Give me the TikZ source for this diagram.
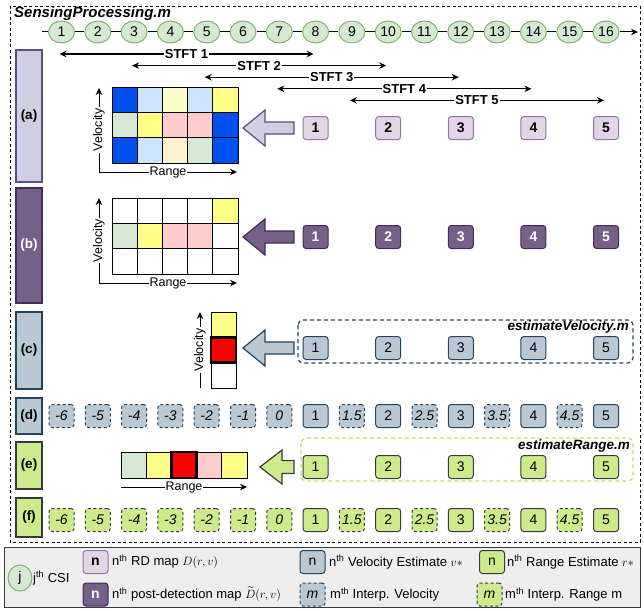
\documentclass[tikz,border=0pt]{standalone}
\usepackage{amsmath}
\usepackage{fontspec}
\setmainfont{Liberation Sans}
\usetikzlibrary{arrows.meta,shapes.geometric}

\definecolor{csifill}{HTML}{D5E8D4}
\definecolor{csiline}{HTML}{82B366}
\definecolor{rdbar}{HTML}{D0CEE2}
\definecolor{rdbarline}{HTML}{56517E}
\definecolor{rdfill}{HTML}{E1D5E7}
\definecolor{rdline}{HTML}{9673A6}
\definecolor{pdfill}{HTML}{76608A}
\definecolor{pdline}{HTML}{432D57}
\definecolor{vfill}{HTML}{BAC8D3}
\definecolor{vline}{HTML}{23445D}
\definecolor{rfill}{HTML}{CDEB8B}
\definecolor{rline}{HTML}{36393D}
\definecolor{rgroup}{HTML}{B9E35A}
\definecolor{legfill}{HTML}{EEEEEE}
\definecolor{cdblue}{HTML}{0050EF}
\definecolor{clblue}{HTML}{CCE5FF}
\definecolor{cpyellow}{HTML}{FFFFCC}
\definecolor{cyellow}{HTML}{FFFF88}
\definecolor{cpink}{HTML}{FFCCCC}
\definecolor{cgreen}{HTML}{D5E8D4}
\definecolor{cbeige}{HTML}{FFF2CC}
\definecolor{cred}{HTML}{FF0000}

\newcommand{\fs}[1]{\fontsize{#1}{#1}\selectfont}

\begin{document}
\begin{tikzpicture}[x=1pt,y=-1pt,
  >={Stealth[length=7pt,width=6.5pt]},
  every node/.style={font=\fs{14}, inner sep=0pt},
  csi/.style={ellipse, minimum width=26pt, minimum height=22pt, fill=csifill, draw=csiline, line width=1pt},
  tline/.style={line width=1pt},
  stft/.style={<->, line width=1.1pt},
  stftlabel/.style={fill=white, inner xsep=1pt, inner ysep=1pt, font=\fs{13}\bfseries},
  bar/.style={rectangle, line width=1.2pt, minimum width=26pt, font=\fs{13.5}\bfseries},
  nbox/.style={rectangle, rounded corners=3pt, minimum width=25pt, minimum height=23pt, line width=1pt},
  idash/.style={dash pattern=on 3pt off 2.5pt, font=\fs{14}\itshape},
  rdbox/.style={nbox, fill=rdfill, draw=rdline, font=\fs{14}\bfseries},
  pdbox/.style={nbox, fill=pdfill, draw=pdline, text=white, font=\fs{14}\bfseries},
  vbox/.style={nbox, fill=vfill, draw=vline},
  vibox/.style={vbox, idash},
  rbox/.style={nbox, fill=rfill, draw=rline},
  ribox/.style={rbox, idash},
  cell/.style={rectangle, minimum width=25.2pt, minimum height=25.3pt, draw=black, line width=0.8pt},
  hitcell/.style={cell, fill=cred, line width=2.6pt},
  axis/.style={->, line width=1pt},
  axislabel/.style={fill=white, inner sep=1pt, font=\fs{12.5}},
  blockarrow/.style={line width=1.2pt, line join=miter},
  group/.style={rectangle, rounded corners=5pt, dash pattern=on 4pt off 3pt, line width=1.2pt},
  scriptname/.style={font=\fs{15}\bfseries\itshape},
  groupname/.style={font=\fs{13.5}\bfseries\itshape},
  legtext/.style={anchor=west, font=\fs{13}}
]
\useasboundingbox (0,0) rectangle (644,610);

% ---------- outer frame of SensingProcessing.m ----------
\draw[dash pattern=on 3pt off 2.5pt, line width=0.9pt] (10,6) rectangle (640,542);
\node[scriptname, anchor=west] (title) at (14,14) {SensingProcessing.m};

% ---------- CSI timeline ----------
\foreach \k in {1,...,16} {
  \pgfmathsetmacro\cx{61.5+(\k-1)*36.3}
  \node[csi] (c\k) at (\cx,32) {\k};
}
\coordinate (tl0) at (42,32);
\coordinate (tl1) at (638,32);
\draw[tline] (tl0) -- (c1);
\foreach \k in {1,...,15} {
  \pgfmathtruncatemacro\nx{\k+1}
  \draw[tline] (c\k) -- (c\nx);
}
\draw[tline,->] (c16) -- (tl1);

% ---------- STFT windows ----------
\foreach \s in {1,...,5} {
  \pgfmathtruncatemacro\ka{2*\s-1}
  \pgfmathtruncatemacro\kb{2*\s+6}
  \pgfmathsetmacro\dy{22+(\s-1)*11.6}
  \path (c\ka) ++(-2,\dy) coordinate (stl\s);
  \path (c\kb) ++(-2,\dy) coordinate (str\s);
  \draw[stft] (stl\s) -- node[stftlabel] (stftlab\s) {STFT \s} (str\s);
}

% ---------- row labels ----------
\node[bar, fill=rdbar, draw=rdbarline, minimum height=132pt] (rowa) at (29,116) {(a)};
\node[bar, fill=pdfill, draw=pdline, text=white, minimum height=115pt] (rowb) at (29,245.5) {(b)};
\node[bar, fill=vfill, draw=vline, minimum height=77pt] (rowc) at (29,350.5) {(c)};
\node[bar, fill=vfill, draw=vline, minimum height=36pt] (rowd) at (29,416) {(d)};
\node[bar, fill=rfill, draw=rline, minimum height=47pt] (rowe) at (29,465.5) {(e)};
\node[bar, fill=rfill, draw=rline, minimum height=39pt] (rowf) at (29,517.5) {(f)};

% ---------- (a) range-Doppler map ----------
\foreach \row [count=\r] in {{cdblue,clblue,cpyellow,clblue,cyellow},
                             {cgreen,cyellow,cpink,cpink,cdblue},
                             {cdblue,clblue,cbeige,cgreen,cdblue}} {
  \foreach \col [count=\c] in \row {
    \node[cell, fill=\col] (ga-\r-\c) at ({112+(\c-0.5)*25.2},{87+(\r-0.5)*25.3}) {};
  }
}
\coordinate (oa) at (99,172);
\coordinate (va) at (99,88);
\coordinate (ra) at (237,172);
\draw[axis] (oa) -- node[axislabel, rotate=90] (vla) {Velocity} (va);
\draw[axis] (oa) -- node[axislabel] (rla) {Range} (ra);

% ---------- (b) post-detection map ----------
\foreach \row [count=\r] in {{white,white,white,white,cyellow},
                             {cgreen,cyellow,cpink,cpink,white},
                             {white,white,white,white,white}} {
  \foreach \col [count=\c] in \row {
    \node[cell, fill=\col] (gb-\r-\c) at ({112+(\c-0.5)*25.2},{198+(\r-0.5)*25.3}) {};
  }
}
\coordinate (ob) at (99,283);
\coordinate (vb) at (99,198);
\coordinate (rb) at (237,283);
\draw[axis] (ob) -- node[axislabel, rotate=90] (vlb) {Velocity} (vb);
\draw[axis] (ob) -- node[axislabel] (rlb) {Range} (rb);

% ---------- (c) velocity column ----------
\node[cell, fill=cyellow, minimum width=25pt] (gc-1) at (223.5,324.7) {};
\node[cell, fill=white, minimum width=25pt] (gc-3) at (223.5,375.3) {};
\node[hitcell, minimum width=25pt] (gc-2) at (223.5,350) {};
\coordinate (oc) at (200,388);
\coordinate (vc) at (200,312);
\draw[axis] (oc) -- node[axislabel, rotate=90] (vlc) {Velocity} (vc);

% ---------- (e) range strip ----------
\foreach \col [count=\c] in {cgreen,cyellow,white,cpink,cyellow} {
  \node[cell, fill=\col, minimum height=26pt] (ge-\c) at ({121+(\c-0.5)*25.2},465) {};
}
\node[hitcell, minimum height=26pt] (ge-hit) at (ge-3) {};
\coordinate (oe) at (121,487);
\coordinate (re) at (247,487);
\draw[axis] (oe) -- node[axislabel] (rle) {Range} (re);

% ---------- block arrows ----------
\draw[blockarrow, fill=rdbar, draw=rdbarline]
  (243,128) -- (265,110) -- (265,122) -- (294,122) -- (294,134) -- (265,134) -- (265,146) -- cycle;
\draw[blockarrow, fill=pdfill, draw=pdline]
  (243,237) -- (265,219) -- (265,231) -- (294,231) -- (294,243) -- (265,243) -- (265,255) -- cycle;
\draw[blockarrow, fill=vfill, draw=vline]
  (243,348) -- (265,330) -- (265,342) -- (294,342) -- (294,354) -- (265,354) -- (265,366) -- cycle;
\draw[blockarrow, fill=rfill, draw=rline]
  (260,467) -- (282,450) -- (282,460.5) -- (294,460.5) -- (294,473.5) -- (282,473.5) -- (282,484) -- cycle;

% ---------- function groups ----------
\draw[group, draw=vline] (298,320) rectangle (633,363);
\node[groupname, anchor=east] (evm) at (629,327) {estimateVelocity.m};
\draw[group, draw=rgroup] (301,438) rectangle (633,481);
\node[groupname, anchor=east] (erm) at (630,446) {estimateRange.m};

% ---------- per-STFT estimates ----------
\foreach \n in {1,...,5} {
  \pgfmathsetmacro\bx{61.5+(2*\n+5)*36.3}
  \node[rdbox] (a\n) at (\bx,128) {\n};
  \node[pdbox] (b\n) at (\bx,237) {\n};
  \node[vbox]  (e\n) at (\bx,348) {\n};
  \node[rbox]  (r\n) at (\bx,467) {\n};
}

% ---------- interpolated rows (d) and (f) ----------
\foreach \k/\lab in {1/-6,2/-5,3/-4,4/-3,5/-2,6/-1,7/0,9/1.5,11/2.5,13/3.5,15/4.5} {
  \pgfmathsetmacro\bx{61.5+(\k-1)*36.3}
  \node[vibox] (d\k) at (\bx,416) {\lab};
  \node[ribox] (f\k) at (\bx,520) {\lab};
}
\foreach \k/\lab in {8/1,10/2,12/3,14/4,16/5} {
  \pgfmathsetmacro\bx{61.5+(\k-1)*36.3}
  \node[vbox] (d\k) at (\bx,416) {\lab};
  \node[rbox] (f\k) at (\bx,520) {\lab};
}

% ---------- legend ----------
\draw[fill=legfill, draw=rline, line width=1pt] (4,547) rectangle (640,607);
\node[csi, minimum width=24pt, minimum height=26pt] (lgcsi) at (20,578) {j};
\node[legtext] (lgcsit) at (33,578) {j\textsuperscript{th} CSI};
\node[rdbox] (lgrd) at (95.5,562) {n};
\node[legtext] (lgrdt) at (112,562) {n\textsuperscript{th} RD map $D(r,v)$};
\node[pdbox] (lgpd) at (95.5,594.5) {n};
\node[legtext] (lgpdt) at (112,594.5) {n\textsuperscript{th} post-detection map $\widetilde{D}(r,v)$};
\node[vbox] (lgv) at (312.5,562) {n};
\node[legtext] (lgvt) at (329,562) {n\textsuperscript{th} Velocity Estimate $v*$};
\node[vibox] (lgvi) at (312.5,594.5) {m};
\node[legtext] (lgvit) at (330,594.5) {m\textsuperscript{th} Interp. Velocity};
\node[rbox] (lgr) at (492,562) {n};
\node[legtext] (lgrt) at (507,562) {n\textsuperscript{th} Range Estimate $r*$};
\node[ribox] (lgri) at (489.5,594.5) {m};
\node[legtext] (lgrit) at (505,594.5) {m\textsuperscript{th} Interp. Range m};
\end{tikzpicture}
\end{document}
